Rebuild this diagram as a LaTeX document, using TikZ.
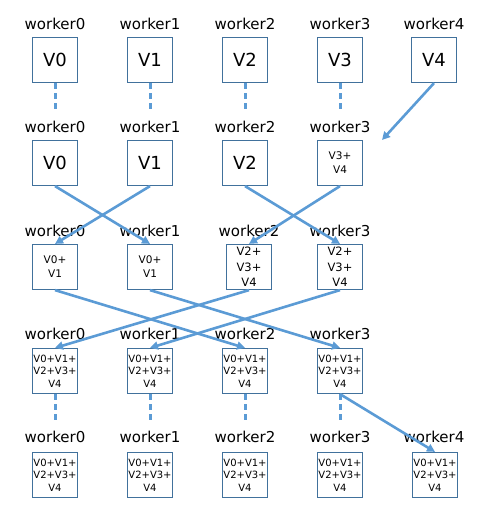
\documentclass[tikz,border=0pt]{standalone}
\usepackage{fontspec}
\setmainfont{DejaVu Sans}
\usetikzlibrary{arrows.meta}

\definecolor{boxblue}{RGB}{65,113,156}
\definecolor{lineblue}{RGB}{91,155,213}

\begin{document}
\begin{tikzpicture}[x=1pt, y=-1pt,
    box/.style={draw=boxblue, line width=1.2pt, minimum size=45pt, inner sep=0pt, align=center},
    big/.style={font=\fontsize{18}{20}\selectfont},
    part/.style={font=\fontsize{10.5}{14}\selectfont},
    half/.style={font=\fontsize{11.5}{15.5}\selectfont},
    full/.style={font=\fontsize{10}{12.5}\selectfont},
    worker/.style={font=\fontsize{15}{18}\selectfont, inner sep=0pt},
    send/.style={draw=lineblue, line width=2.6pt, -{Triangle[length=8pt, width=8pt]}},
    wait/.style={draw=lineblue, line width=3pt, dash pattern=on 6pt off 4pt}]

    \useasboundingbox (0, 0) rectangle (489, 521);

    % row 1
    \node[box, big] (a0) at (55, 60) {V0};
    \node[box, big] (a1) at (150, 60) {V1};
    \node[box, big] (a2) at (245, 60) {V2};
    \node[box, big] (a3) at (340, 60) {V3};
    \node[box, big] (a4) at (434, 60) {V4};

    \node[worker] (la0) at (55, 24) {worker0};
    \node[worker] (la1) at (150, 24) {worker1};
    \node[worker] (la2) at (245, 24) {worker2};
    \node[worker] (la3) at (340, 24) {worker3};
    \node[worker] (la4) at (434, 24) {worker4};

    % row 2
    \node[box, big] (b0) at (55, 163) {V0};
    \node[box, big] (b1) at (150, 163) {V1};
    \node[box, big] (b2) at (245, 163) {V2};
    \node[box, part] (b3) at (340, 163) {V3+\\V4};

    \node[worker] (lb0) at (55, 127) {worker0};
    \node[worker] (lb1) at (150, 127) {worker1};
    \node[worker] (lb2) at (245, 127) {worker2};
    \node[worker] (lb3) at (340, 127) {worker3};

    % row 3
    \node[box, part] (c0) at (55, 267) {V0+\\V1};
    \node[box, part] (c1) at (150, 267) {V0+\\V1};
    \node[box, half] (c2) at (249, 267) {V2+\\V3+\\V4};
    \node[box, half] (c3) at (340, 267) {V2+\\V3+\\V4};

    \node[worker] (lc0) at (55, 231) {worker0};
    \node[worker] (lc1) at (150, 231) {worker1};
    \node[worker] (lc2) at (249, 231) {worker2};
    \node[worker] (lc3) at (340, 231) {worker3};

    % row 4
    \node[box, full] (d0) at (55, 371) {V0+V1+\\V2+V3+\\V4};
    \node[box, full] (d1) at (150, 371) {V0+V1+\\V2+V3+\\V4};
    \node[box, full] (d2) at (245, 371) {V0+V1+\\V2+V3+\\V4};
    \node[box, full] (d3) at (340, 371) {V0+V1+\\V2+V3+\\V4};

    \node[worker] (ld0) at (55, 334) {worker0};
    \node[worker] (ld1) at (150, 334) {worker1};
    \node[worker] (ld2) at (245, 334) {worker2};
    \node[worker] (ld3) at (340, 334) {worker3};

    % row 5
    \node[box, full] (e0) at (55, 475) {V0+V1+\\V2+V3+\\V4};
    \node[box, full] (e1) at (150, 475) {V0+V1+\\V2+V3+\\V4};
    \node[box, full] (e2) at (245, 475) {V0+V1+\\V2+V3+\\V4};
    \node[box, full] (e3) at (340, 475) {V0+V1+\\V2+V3+\\V4};
    \node[box, full] (e4) at (435, 475) {V0+V1+\\V2+V3+\\V4};

    \node[worker] (le0) at (55, 437) {worker0};
    \node[worker] (le1) at (150, 437) {worker1};
    \node[worker] (le2) at (245, 437) {worker2};
    \node[worker] (le3) at (340, 437) {worker3};
    \node[worker] (le4) at (434, 437) {worker4};

    \coordinate (ta0) at (55, 112);
    \coordinate (ta1) at (150, 112);
    \coordinate (ta2) at (245, 112);
    \coordinate (ta3) at (340, 112);
    \coordinate (tb3) at (382, 140);

    \coordinate (td0) at (55, 423);
    \coordinate (td1) at (150, 423);
    \coordinate (td2) at (245, 423);
    \coordinate (td3) at (340, 423);

    \draw[wait] (a0.south) -- (ta0);
    \draw[wait] (a1.south) -- (ta1);
    \draw[wait] (a2.south) -- (ta2);
    \draw[wait] (a3.south) -- (ta3);
    \draw[send] (a4.south) -- (tb3);

    \draw[send] (b0.south) -- (c1.north);
    \draw[send] (b1.south) -- (c0.north);
    \draw[send] (b2.south) -- (c3.north);
    \draw[send] (b3.south) -- (c2.north);

    \draw[send] (c0.south) -- (d2.north);
    \draw[send] (c1.south) -- (d3.north);
    \draw[send] (c2.south) -- (d0.north);
    \draw[send] (c3.south) -- (d1.north);

    \draw[wait] (d0.south) -- (td0);
    \draw[wait] (d1.south) -- (td1);
    \draw[wait] (d2.south) -- (td2);
    \draw[wait] (d3.south) -- (td3);
    \draw[send] (d3.south) -- (e4.north);
\end{tikzpicture}
\end{document}
